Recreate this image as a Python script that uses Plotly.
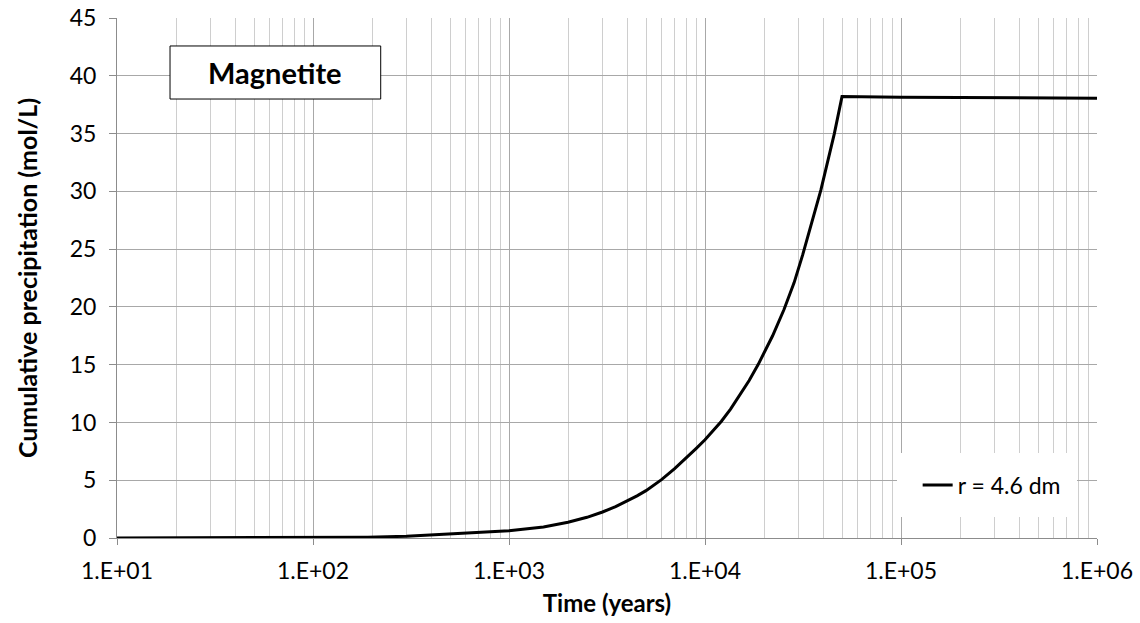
import plotly.graph_objects as go

# Cumulative magnetite precipitation over time
time_years = [10, 20, 50, 100, 190, 300, 410, 610, 1000, 1500, 2000, 2500, 3000, 3500,
              4000, 4500, 5000, 6000, 7000, 8000, 9000, 10000, 11000, 12100, 13500,
              15000, 16800, 18700, 20000, 22100, 25300, 28500, 31500, 35200, 39000,
              45700, 50000, 100000, 200000, 500000, 1000000]
precip_mol_l = [0.0, 0.01, 0.03, 0.05, 0.07, 0.15, 0.26, 0.4, 0.63, 0.96, 1.36, 1.79, 2.25, 2.72,
                3.18, 3.65, 4.1, 5.05, 6.0, 6.9, 7.74, 8.5, 9.25, 10.08, 11.15,
                12.3, 13.63, 15.03, 15.96, 17.48, 19.77, 22.1, 24.5, 27.4, 30.1,
                35.0, 38.2, 38.15, 38.1, 38.07, 38.05]
series_name = "r = 4.6 dm"

x_tick_vals = [1e1, 1e2, 1e3, 1e4, 1e5, 1e6]
x_tick_text = ["1.E+01", "1.E+02", "1.E+03", "1.E+04", "1.E+05", "1.E+06"]

FONT = "Lato, 'Open Sans', sans-serif"

fig = go.Figure()
fig.add_trace(go.Scatter(
    x=time_years, y=precip_mol_l, mode="lines", name=series_name,
    line=dict(color="black", width=3),
))

fig.update_layout(
    width=1140, height=623,
    margin=dict(l=117, r=43, t=18, b=85, autoexpand=False),
    paper_bgcolor="white", plot_bgcolor="white",
    font=dict(family=FONT, color="black", size=23),
    showlegend=True,
    legend=dict(
        x=0.817, y=0.102, xanchor="left", yanchor="middle",
        bgcolor="rgba(0,0,0,0)", borderwidth=0,
        font=dict(family=FONT, size=23, color="black"),
    ),
    shapes=[
        # white backing for the legend
        dict(type="rect", xref="paper", yref="paper",
             x0=0.7959, x1=0.9796, y0=0.0404, y1=0.1635,
             fillcolor="white", line=dict(width=0), layer="above"),
        # boxed mineral label
        dict(type="rect", xref="paper", yref="paper",
             x0=0.0541, x1=0.2691, y0=0.8442, y1=0.9462,
             fillcolor="white", line=dict(color="black", width=1), layer="above"),
    ],
    annotations=[
        dict(text="<b>Magnetite</b>", xref="paper", yref="paper",
             x=0.1616, y=0.8952, xanchor="center", yanchor="middle",
             showarrow=False, font=dict(family=FONT, size=29, color="black")),
    ],
)

fig.update_xaxes(
    type="log", range=[1, 6], automargin=False,
    tickmode="array", tickvals=x_tick_vals, ticktext=x_tick_text,
    ticks="outside", ticklen=6, tickcolor="#8c8c8c", ticklabelstandoff=6,
    showline=True, linecolor="#8c8c8c", linewidth=1,
    showgrid=True, gridcolor="#a8a8a8", gridwidth=1,
    minor=dict(dtick="D1", showgrid=True, gridcolor="#cecece", gridwidth=1, ticks=""),
    zeroline=False,
    tickfont=dict(family=FONT, size=23),
    title=dict(text="<b>Time (years)</b>", font=dict(family=FONT, size=24), standoff=12),
)
fig.update_yaxes(
    range=[0, 45], dtick=5, tick0=0, automargin=False,
    ticks="outside", ticklen=7, tickcolor="#8c8c8c", ticklabelstandoff=8,
    showline=True, linecolor="#8c8c8c", linewidth=1,
    showgrid=True, gridcolor="#a8a8a8", gridwidth=1,
    zeroline=False,
    tickfont=dict(family=FONT, size=23),
    title=dict(text="<b>Cumulative precipitation (mol/L)</b>", font=dict(family=FONT, size=25), standoff=24),
)

fig.write_html("out.html")
